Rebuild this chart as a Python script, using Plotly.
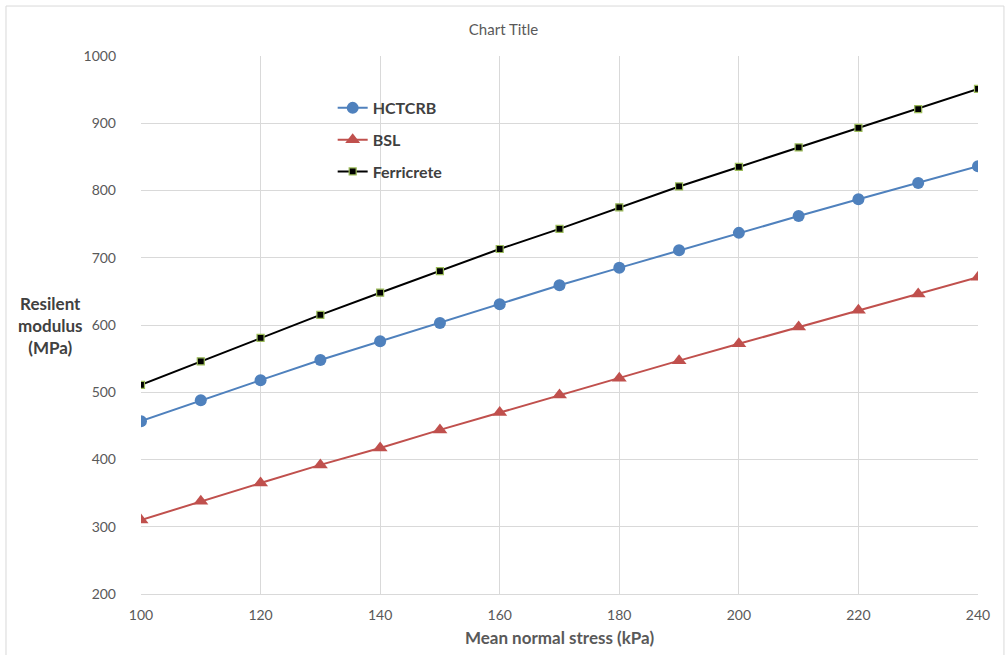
import plotly.graph_objects as go

# Mean normal stress (kPa)
stress = [100, 110, 120, 130, 140, 150, 160, 170, 180, 190, 200, 210, 220, 230, 240]

# Resilient modulus (MPa) per material
hctcrb = [457, 488, 518, 548, 576, 603, 631, 659, 685, 711, 737, 762, 787, 811, 836]
bsl = [310, 338, 365, 392, 417, 444, 470, 496, 521, 547, 572, 597, 622, 646, 671]
ferricrete = [511, 546, 581, 615, 648, 680, 713, 743, 775, 806, 835, 864, 893, 921, 951]

y_ticks = [200, 300, 400, 500, 600, 700, 800, 900, 1000]
x_ticks = [100, 120, 140, 160, 180, 200, 220, 240]

FONT = "Lato, Calibri, Carlito, sans-serif"
GRID = "#d9d9d9"
TICK = "#595959"

fig = go.Figure()

fig.add_trace(go.Scatter(
    x=stress, y=hctcrb, name="HCTCRB", mode="lines+markers", legendgroup="a",
    line=dict(color="#4f81bd", width=2),
    marker=dict(symbol="circle", size=12, color="#4f81bd"),
))
fig.add_trace(go.Scatter(
    x=stress, y=bsl, name="BSL", mode="lines+markers", legendgroup="b",
    line=dict(color="#c0504d", width=2),
    marker=dict(symbol="triangle-up", size=13, color="#c0504d"),
))
fig.add_trace(go.Scatter(
    x=stress, y=ferricrete, name="Ferricrete", mode="lines+markers", legendgroup="c",
    line=dict(color="#000000", width=2),
    marker=dict(symbol="square", size=7, color="#000000",
                line=dict(color="#9bbb59", width=1.2)),
))

# thin outer frame around the chart
fig.add_shape(type="rect", xref="paper", yref="paper",
              x0=-0.1613, x1=1.031, y0=-0.2, y1=1.0929,
              line=dict(color="#d9d9d9", width=1), layer="below")

fig.update_layout(
    width=1007, height=655,
    margin=dict(l=141, r=29, t=56, b=61),
    paper_bgcolor="white", plot_bgcolor="white",
    font=dict(family=FONT, color=TICK, size=14),
    title=dict(text="Chart Title", x=0.5, xanchor="center", y=0.955, yanchor="middle",
               font=dict(family=FONT, size=15, color=TICK)),
    showlegend=True,
    legend=dict(x=0.229, y=0.935, xanchor="left", yanchor="top",
                bgcolor="rgba(0,0,0,0)", tracegroupgap=8, itemwidth=30,
                font=dict(family=FONT, size=16, color="#404040", weight="bold")),
    xaxis=dict(
        range=[100, 240], tickvals=x_ticks, showgrid=True, gridcolor=GRID, gridwidth=1,
        zeroline=False, showline=True, linecolor=GRID, ticks="", ticklen=0,
        ticklabelstandoff=8, automargin=False,
        tickfont=dict(family=FONT, size=14, color=TICK),
        title=dict(text="Mean normal stress (kPa)", standoff=10,
                   font=dict(family=FONT, size=17, color="#595959", weight="bold")),
    ),
    yaxis=dict(
        range=[200, 1000], tickvals=y_ticks, showgrid=True, gridcolor=GRID, gridwidth=1,
        zeroline=False, showline=False, ticks="", ticklen=0,
        ticklabelstandoff=24, automargin=False,
        tickfont=dict(family=FONT, size=14, color=TICK),
    ),
)

# horizontal y-axis title
fig.add_annotation(
    text="Resilent<br>modulus<br>(MPa)", xref="paper", yref="paper",
    x=-0.108, y=0.50, xanchor="center", yanchor="middle", showarrow=False, align="center",
    font=dict(family=FONT, size=17, color="#404040", weight="bold"),
)

fig.write_html("out.html")
